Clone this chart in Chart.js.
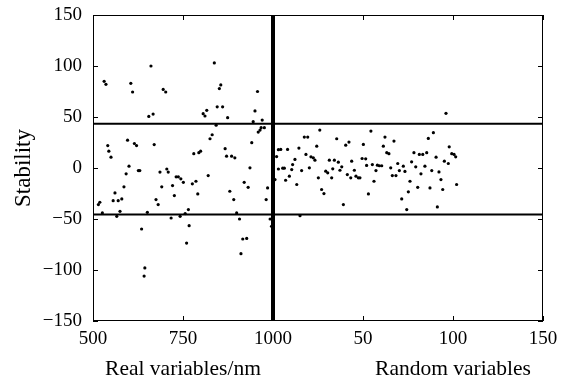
<!DOCTYPE html>
<html>
<head>
<meta charset="utf-8">
<script src="https://cdn.jsdelivr.net/npm/chart.js@4/dist/chart.umd.min.js"></script>
<style>
  html, body { margin: 0; padding: 0; background: #fff; }
  canvas { display: block; }
</style>
</head>
<body>
<canvas id="stabilityChart" width="565" height="382"></canvas>
<script>
  // Real variables: wavelength (nm) and stability
  const realWavelength = [
    661, 531, 536, 605, 610, 695, 702, 655, 667, 541, 544, 550, 596, 615, 621, 670, 600, 705,
    837, 855, 851, 957, 845, 860, 816, 806, 811, 874, 950, 945, 970, 842, 967, 964, 959, 976,
    831, 825, 941, 799, 794, 780, 867, 871, 885, 894, 936,
    592, 626, 630, 686, 709, 731, 737, 744, 751, 586, 561, 691, 721, 726, 556, 570, 580, 519,
    515, 675, 681, 526, 575, 651, 566, 717, 742, 756, 765, 635, 767, 760, 644, 642,
    820, 786, 776, 791, 920, 931, 880, 891, 985, 981, 899, 907, 992, 996, 916, 927, 911
  ];
  const realStability = [
    100, 85, 82, 83, 74.5, 77, 74.5, 50.6, 52.9, 22, 16.5, 10.6, 27.3, 24, 22, 23, 1.8, -1,
    103, 81.4, 77.9, 75, 60, 60, 56.5, 53.3, 51, 49.3, 56, 45.4, 47, 42, 39.5, 37.2, 35.2, 39.5,
    32.6, 28.7, 24.8, 16.5, 15, 14, 18.9, 11.6, 11.6, 10, 0.2,
    -5.7, -2.5, -2.5, -4, -4, -8.7, -8.7, -10.6, -14, -18.5, -24.4, -18.5, -17.2, -27, -32, -32, -30.3, -33.6,
    -35.9, -31, -35.9, -44, -42.5, -43.5, -47.4, -49, -47.4, -44.7, -40.8, -59.8, -56.5, -73.6, -98, -106,
    -7.4, -13, -15.5, -25.4, -14, -18.9, -22.8, -31, -19.5, -31, -44, -50, -50, -57.2, -69.6, -69, -84
  ];

  // Random variables: index and stability
  const randomIndex = [
    26, 17.4, 19.3, 35.4, 24.3, 42.2, 40.4, 50.2, 4.3, 8.1, 14.4, 3, 2, 18.3, 21.1, 22.4, 23.3, 12.2,
    10.9, 31.3, 34.1, 36.3, 43.7, 49.5, 51.5, 38.2, 3, 5.4, 6.3, 10.4, 15.9, 20.2, 29.3, 30.4, 33.2,
    37.2, 41.3, 43.2, 45.2, 46.1, 47.4, 48.3, 32.6, 25.2, 9.1, 7, 1.1, 13.2, 27, 28.3, 39.1, 15,
    96.1, 54.4, 62.2, 67.2, 61.3, 89.1, 86.3, 97.9, 63.2, 64.4, 78.3, 81.3, 83.2, 85.4, 99.3, 100.6,
    101.5, 90.6, 95.2, 97.4, 77, 69.3, 55.2, 58, 59.1, 60.4, 52, 72.4, 84.4, 79.3, 65.4, 57.2, 70.2,
    73.3, 88.2, 92.2, 82.2, 66.3, 68.3, 93.3, 56.1, 76.1, 102, 80.4, 87.2, 94.3, 75.2, 53, 71.5, 91.3, 74.3
  ];
  const randomStability = [
    37.2, 30.3, 30.3, 28.7, 21.4, 25.4, 22.4, 23.1, 18.2, 18.2, 19.5, 18, 11.2, 13.3, 11, 10, 7.7, 8.4,
    3.4, 7.7, 7.7, 5.7, 6.7, 9.3, 9, 1.2, -1, -0.2, -0.2, -1.5, -2.5, 0.2, -3.1, -4.7, -0.8,
    -2.2, -6.4, -9.6, -2.2, -8, -9.6, -9.6, -9.6, -9.6, -8, -12, -11.3, -16.2, -21.1, -25.1, -35.9, -46.7,
    53.6, 36.2, 30.3, 26.4, 21.4, 34.6, 29, 20.8, 15, 14, 15, 13.3, 13.3, 15, 14, 13.3,
    11, 10.6, 6.7, 4.4, 6.1, 4.4, 3.4, 2.8, 2.2, 2.2, 2.5, 1.8, 1.8, 1.2, 0.2, -2.5, -2.5,
    -3.4, -2.5, -3.8, -5.7, -7.4, -7.4, -11.3, -13, -13, -16.2, -18.9, -19.5, -21.1, -23.4, -25.4, -30.3, -38.2, -40.8
  ];

  const xTickLabels = ["500", "750", "1000", "50", "100", "150"];
  const upperThreshold = 43.5;
  const lowerThreshold = -45.5;

  // shared axis: 500..1000 nm occupy units 0..2, random 0..150 occupy units 2..5
  const realToAxis = (nm) => (nm - 500) / 250;
  const randomToAxis = (r) => 2 + r / 50;

  const FONT = "'Liberation Serif', 'DejaVu Serif', serif";

  const points = realWavelength.map((w, i) => ({ x: realToAxis(w), y: realStability[i] }))
    .concat(randomIndex.map((r, i) => ({ x: randomToAxis(r), y: randomStability[i] })));

  const frameAndTitles = {
    id: "frameAndTitles",
    afterDraw(chart) {
      const { ctx, chartArea: a, scales } = chart;
      ctx.save();
      ctx.strokeStyle = "#000";
      ctx.lineWidth = 1;
      ctx.strokeRect(a.left + 0.5, a.top + 0.5, a.right - a.left - 1, a.bottom - a.top - 1);

      const len = 5;
      ctx.beginPath();
      scales.x.ticks.forEach((t) => {
        const px = Math.round(scales.x.getPixelForValue(t.value)) + 0.5;
        ctx.moveTo(px, a.bottom); ctx.lineTo(px, a.bottom - len);
        ctx.moveTo(px, a.top); ctx.lineTo(px, a.top + len);
      });
      scales.y.ticks.forEach((t) => {
        const py = Math.round(scales.y.getPixelForValue(t.value)) + 0.5;
        ctx.moveTo(a.left, py); ctx.lineTo(a.left + len, py);
        ctx.moveTo(a.right, py); ctx.lineTo(a.right - len, py);
      });
      ctx.stroke();

      ctx.fillStyle = "#000";
      ctx.font = "21.5px " + FONT;
      ctx.textAlign = "center";
      ctx.textBaseline = "middle";
      ctx.fillText("Real variables/nm", scales.x.getPixelForValue(realToAxis(750)), 369);
      ctx.fillText("Random variables", scales.x.getPixelForValue(randomToAxis(100)), 369);

      ctx.font = "23px " + FONT;
      ctx.translate(24, 168);
      ctx.rotate(-Math.PI / 2);
      ctx.fillText("Stability", 0, 0);
      ctx.restore();
    }
  };

  new Chart(document.getElementById("stabilityChart"), {
    type: "scatter",
    data: {
      datasets: [
        {
          label: "Stability",
          data: points,
          pointRadius: 1.6,
          pointBackgroundColor: "#000",
          pointBorderWidth: 0
        },
        {
          type: "line",
          data: [{ x: 0, y: upperThreshold }, { x: 5, y: upperThreshold }],
          borderColor: "#000",
          borderWidth: 2,
          pointRadius: 0
        },
        {
          type: "line",
          data: [{ x: 0, y: lowerThreshold }, { x: 5, y: lowerThreshold }],
          borderColor: "#000",
          borderWidth: 2,
          pointRadius: 0
        },
        {
          type: "line",
          data: [{ x: realToAxis(1000), y: -150 }, { x: realToAxis(1000), y: 150 }],
          borderColor: "#000",
          borderWidth: 4,
          pointRadius: 0
        }
      ]
    },
    options: {
      responsive: false,
      devicePixelRatio: 1,
      animation: false,
      layout: { padding: { top: 15, right: 22, left: 0, bottom: 0 } },
      plugins: { legend: { display: false }, tooltip: { enabled: false } },
      scales: {
        x: {
          type: "linear",
          min: 0,
          max: 5,
          grid: { display: false, drawTicks: false },
          border: { display: false },
          ticks: {
            stepSize: 1,
            color: "#000",
            padding: 7,
            maxRotation: 0,
            font: { family: FONT, size: 19 },
            callback: (v) => xTickLabels[v]
          },
          afterFit: (s) => { s.height = 61; s.paddingLeft = 0; s.paddingRight = 0; }
        },
        y: {
          min: -150,
          max: 150,
          grid: { display: false, drawTicks: false },
          border: { display: false },
          ticks: {
            stepSize: 50,
            color: "#000",
            padding: 11,
            font: { family: FONT, size: 19 },
            callback: (v) => String(v).replace("-", "\u2212")
          },
          afterFit: (s) => { s.width = 93; s.paddingTop = 0; s.paddingBottom = 0; }
        }
      }
    },
    plugins: [frameAndTitles]
  });
</script>
</body>
</html>
